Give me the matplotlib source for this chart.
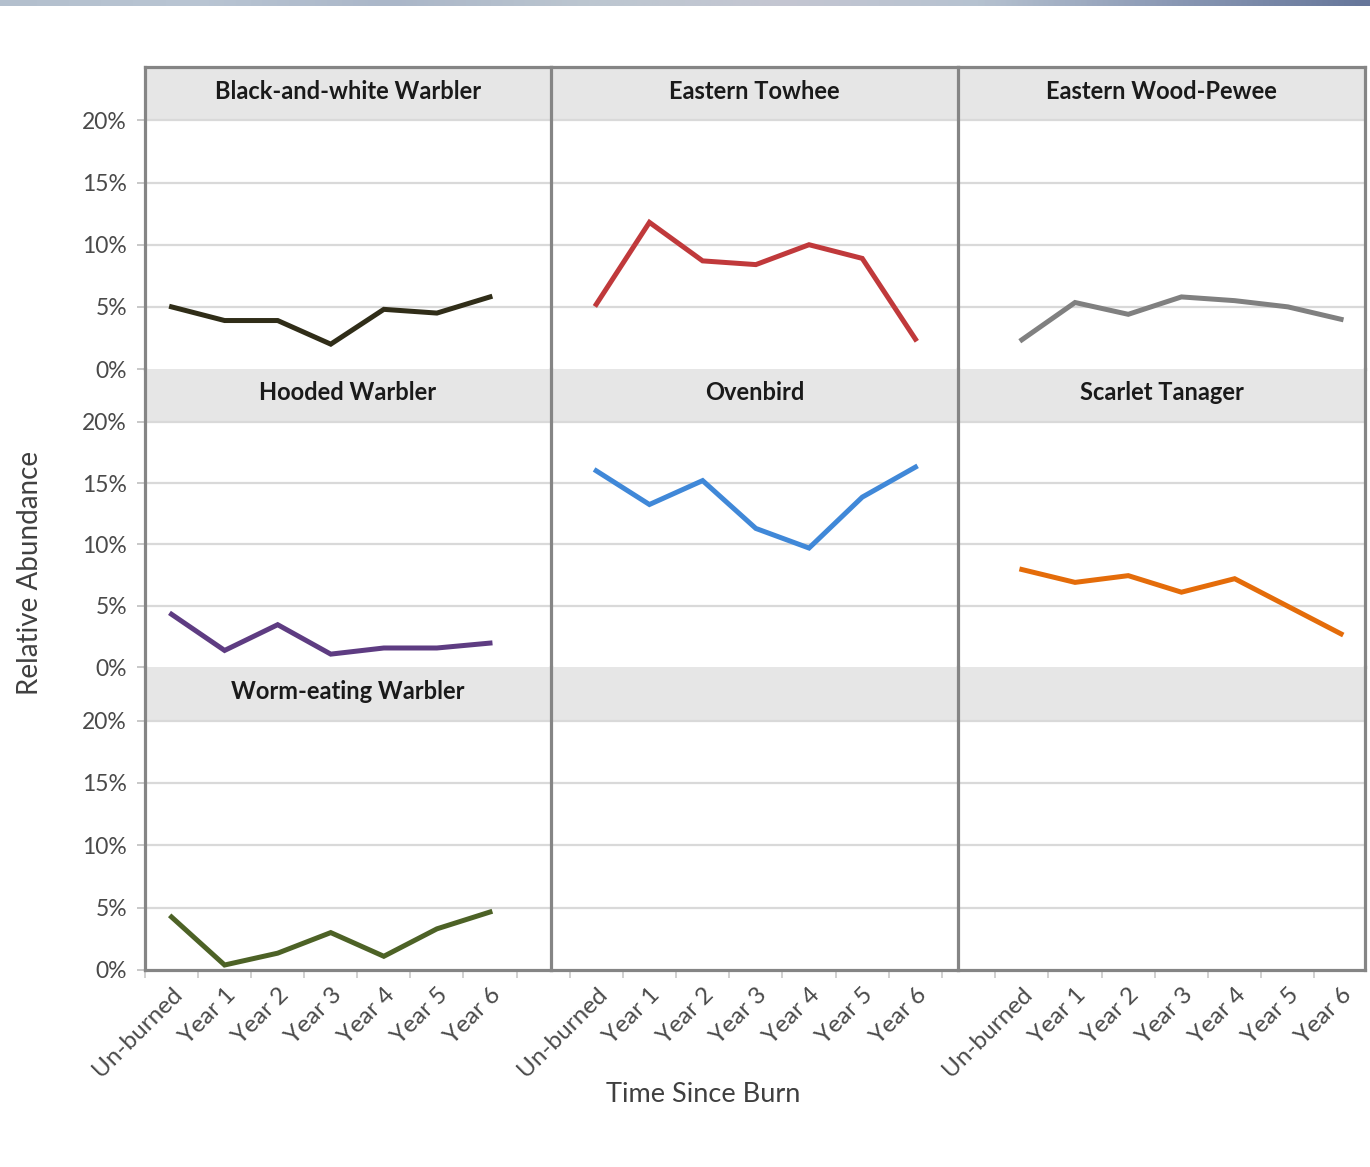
import numpy as np
import matplotlib
matplotlib.use("Agg")
import matplotlib.pyplot as plt
from matplotlib.colors import LinearSegmentedColormap
from matplotlib.ticker import FixedLocator

plt.rcParams["font.family"] = ["Lato", "DejaVu Sans"]

# Survey periods relative to the prescribed burn
periods = ["Un-burned", "Year 1", "Year 2", "Year 3", "Year 4", "Year 5", "Year 6"]

# Relative abundance (%) of each species per period
black_and_white_warbler = [5.0, 3.9, 3.9, 2.0, 4.8, 4.5, 5.8]
eastern_towhee = [5.2, 11.8, 8.7, 8.4, 10.0, 8.9, 2.4]
eastern_wood_pewee = [2.35, 5.35, 4.4, 5.8, 5.5, 5.0, 4.0]
hooded_warbler = [4.3, 1.35, 3.45, 1.05, 1.55, 1.55, 1.95]
ovenbird = [16.0, 13.25, 15.2, 11.3, 9.7, 13.85, 16.3]
scarlet_tanager = [7.95, 6.9, 7.45, 6.1, 7.2, 4.95, 2.7]
worm_eating_warbler = [4.25, 0.4, 1.35, 3.0, 1.1, 3.3, 4.65]

y_ticks = [0, 5, 10, 15, 20]
y_tick_labels = ["0%", "5%", "10%", "15%", "20%"]

panels = [
    [("Black-and-white Warbler", black_and_white_warbler, "#302d18"),
     ("Eastern Towhee", eastern_towhee, "#c0393b"),
     ("Eastern Wood-Pewee", eastern_wood_pewee, "#808080")],
    [("Hooded Warbler", hooded_warbler, "#5e3c82"),
     ("Ovenbird", ovenbird, "#4088d8"),
     ("Scarlet Tanager", scarlet_tanager, "#e46c0a")],
    [("Worm-eating Warbler", worm_eating_warbler, "#4d6226"),
     None,
     None],
]

W, H = 1370, 1167
fig = plt.figure(figsize=(W / 100, H / 100), dpi=100)
fig.patch.set_facecolor("white")

# Thin shaded banner along the top edge
band = fig.add_axes([0, 1 - 6 / H, 1, 6 / H])
cmap = LinearSegmentedColormap.from_list(
    "band", ["#b3bfcd", "#b9c5d3", "#aab6c8", "#bcc6d0", "#c4c6d2", "#b6c2d0", "#8a98b4", "#66769a"])
band.imshow(np.linspace(0, 1, 512)[None, :], aspect="auto", cmap=cmap)
band.axis("off")

col_edges = [145, 551, 958, 1365]
row_edges = [67, 369, 667, 970]
ytop = 24.3
frame = "#858585"
grid = "#d9d9d9"
header = "#e6e6e6"
tick_text = "#4a4a4a"

x = np.arange(len(periods))

for r in range(3):
    for c in range(3):
        x0, x1 = col_edges[c], col_edges[c + 1]
        y0, y1 = row_edges[r], row_edges[r + 1]
        ax = fig.add_axes([x0 / W, 1 - y1 / H, (x1 - x0) / W, (y1 - y0) / H])
        ax.set_facecolor("white")
        shift = 0.35 * c
        ax.set_xlim(-0.5 - shift, 7.15 - shift)
        ax.set_ylim(0, ytop)

        # header strip above the 20% line
        ax.axhspan(20, ytop, color=header, zorder=0, lw=0)
        for yv in [5, 10, 15, 20]:
            ax.axhline(yv, color=grid, lw=1.6, zorder=1)

        panel = panels[r][c]
        if panel is not None:
            name, vals, color = panel
            ax.plot(x, vals, color=color, lw=3.6, solid_joinstyle="miter", zorder=3)
            ax.text(0.5, 22.35, name, ha="center", va="center",
                    transform=ax.get_yaxis_transform(),
                    fontsize=17, fontweight="bold", color="#1a1a1a")

        for side in ["left", "right", "top", "bottom"]:
            ax.spines[side].set_color(frame)
            ax.spines[side].set_linewidth(2.3)
        ax.spines["top"].set_visible(r == 0)
        ax.spines["bottom"].set_visible(r == 2)
        ax.spines["left"].set_visible(True)
        ax.spines["right"].set_visible(c == 2)

        # y axis ticks only on the first column
        ax.set_yticks(y_ticks)
        if c == 0:
            ax.set_yticklabels(y_tick_labels, fontsize=16.5, color=tick_text)
            ax.tick_params(axis="y", length=6, width=1.2, color="#bfbfbf", pad=7)
        else:
            ax.tick_params(axis="y", left=False, labelleft=False)

        # category labels under the bottom row, tick marks between categories
        ax.set_xticks(x)
        lo, hi = ax.get_xlim()
        bounds = [b + 0.5 for b in range(-2, 9) if lo <= b + 0.5 <= hi]
        ax.xaxis.set_minor_locator(FixedLocator(bounds))
        if r == 2:
            ax.set_xticklabels(periods, rotation=45, ha="right",
                               rotation_mode="anchor", fontsize=17.5, color=tick_text)
            ax.tick_params(axis="x", which="major", length=0, pad=10)
            ax.tick_params(axis="x", which="minor", length=6, width=1.2, color="#c8c8c8")
        else:
            ax.tick_params(axis="x", which="both", bottom=False, labelbottom=False)

fig.text(30 / W, 1 - 573 / H, "Relative Abundance", rotation=90,
         ha="center", va="center", fontsize=20, color="#404040")
fig.text(703 / W, 1 - 1095 / H, "Time Since Burn",
         ha="center", va="center", fontsize=19.5, color="#404040")

fig.savefig("out.png", dpi=100, facecolor="white")
